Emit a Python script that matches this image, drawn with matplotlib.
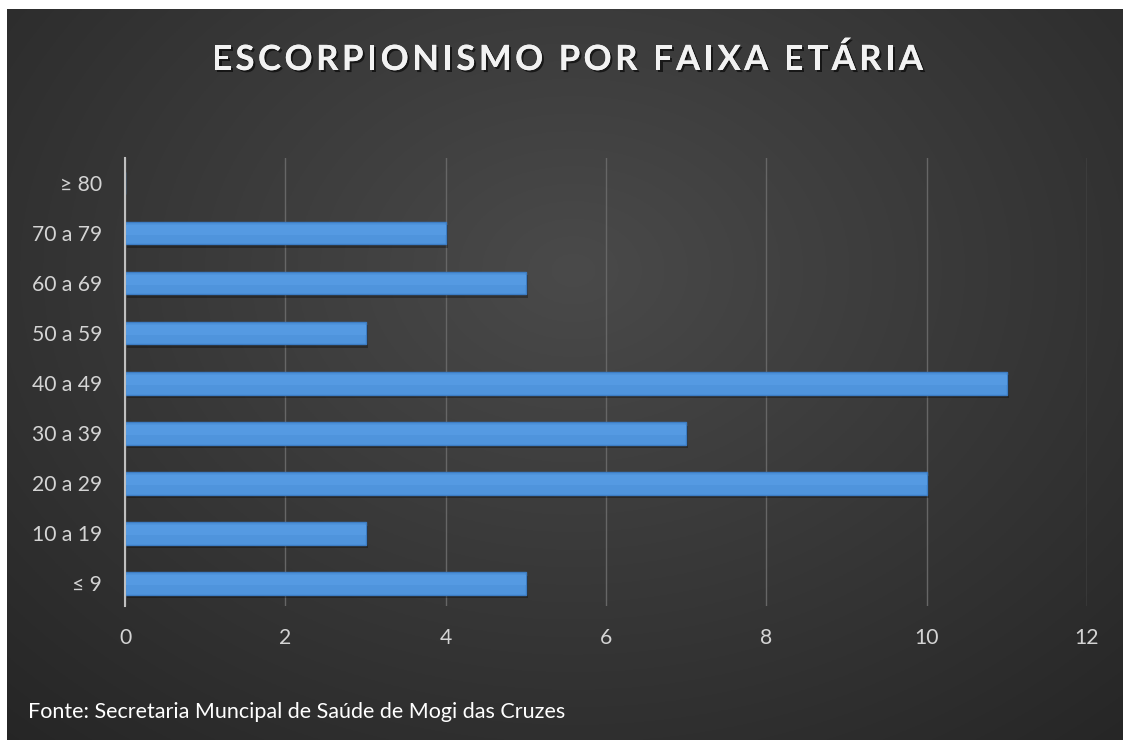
import numpy as np
import matplotlib
matplotlib.use("Agg")
import matplotlib.pyplot as plt
import matplotlib.patheffects as pe
from matplotlib import transforms

categories = ["≤ 9", "10 a 19", "20 a 29", "30 a 39", "40 a 49", "50 a 59", "60 a 69", "70 a 79", "≥ 80"]
values = [5, 3, 10, 7, 11, 3, 5, 4, 0]
xticks = [0, 2, 4, 6, 8, 10, 12]
title = "ESCORPIONISMO POR FAIXA ETÁRIA"
source = "Fonte: Secretaria Muncipal de Saúde de Mogi das Cruzes"

W, H = 1123, 740
fig = plt.figure(figsize=(W / 100, H / 100), dpi=100, facecolor="white")
renderer = fig.canvas.get_renderer()

# background with radial gradient (white margin at top and left)
bg = fig.add_axes([7 / W, -0.02, 1.05, 1.02 - 9 / H])
bg.set_axis_off()
yy, xx = np.mgrid[0:1:400j, 0:1:600j]
d = np.sqrt(((xx - 0.48) / 0.75) ** 2 + ((yy - 0.35) / 0.9) ** 2)
lum = 0.29 - 0.15 * np.clip(d, 0, 1)
img = np.dstack([lum, lum, lum])
bg.imshow(img, extent=[0, 1, 0, 1], aspect="auto", origin="upper")

font = ["Lato", "DejaVu Sans"]


def text_width(s, size, weight="normal"):
    t = fig.text(0, 0, s, fontsize=size, fontfamily=font, fontweight=weight)
    w = t.get_window_extent(renderer).width
    t.remove()
    return w


def fit_size(s, target_px, weight="normal"):
    return 20 * target_px / text_width(s, 20, weight)


ax = fig.add_axes([125 / W, 1 - 606 / H, (1087 - 125) / W, (606 - 158) / H])
ax.patch.set_alpha(0)
y = np.arange(len(categories))

shadow = transforms.offset_copy(ax.transData, fig=fig, x=1.5, y=-2.5, units="points")
ax.barh(y, values, height=0.45, color="black", alpha=0.3, transform=shadow, zorder=2)
ax.barh(y, values, height=0.45, color="#4f94dc", edgecolor="#3d7dc4", linewidth=1.0, zorder=3)
ax.barh(y + 0.07, values, height=0.2, color="#559ae2", linewidth=0, zorder=4)

ax.set_xlim(0, 12)
ax.set_ylim(-0.45, 8.5)
ax.set_xticks(xticks)
ax.set_xticklabels([str(t) for t in xticks])
ax.set_yticks(y)
ax.set_yticklabels(categories)
ax.grid(axis="x", color="#666666", linewidth=1, zorder=0)
ax.set_axisbelow(True)
for s in ["top", "right", "bottom"]:
    ax.spines[s].set_visible(False)
ax.spines["left"].set_color("#bfbfbf")
ax.spines["left"].set_linewidth(1.5)
ax.spines["left"].set_zorder(5)

label_size = fit_size("30 a 39", 70)
ax.tick_params(axis="both", length=0, labelsize=label_size)
ax.tick_params(axis="x", pad=15.5)
ax.tick_params(axis="y", pad=16.5)
for lab in ax.get_xticklabels() + ax.get_yticklabels():
    lab.set_fontfamily(font)
    lab.set_color("#d4d4d4")

# title with letter spacing
tsize = 25
left, right = 212, 923
widths = []
for ch in title:
    if ch == " ":
        widths.append(text_width("A A", tsize, "bold") - text_width("AA", tsize, "bold"))
    else:
        widths.append(text_width(ch, tsize, "bold"))
gap = (right - left - sum(widths)) / (len(title) - 1)
xpos = left
for ch, w in zip(title, widths):
    if ch != " ":
        fig.text(xpos / W, 1 - 57 / H, ch, ha="left", va="center_baseline", color="#f2f2f2",
                 fontsize=tsize, fontweight="bold", fontfamily=font,
                 path_effects=[pe.withSimplePatchShadow(offset=(1.5, -1.5), alpha=0.6,
                                                        shadow_rgbFace="black"), pe.Normal()])
    xpos += w + gap

src_size = fit_size(source, 565 - 28)
fig.text(28 / W, 1 - 712 / H, source, ha="left", va="center", color="white",
         fontsize=src_size, fontfamily=font)

fig.savefig("out.png", dpi=100, facecolor="white")
